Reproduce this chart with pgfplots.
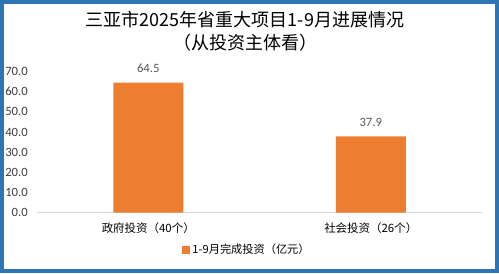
\documentclass[border=0pt]{standalone}
\usepackage{pgfplots}
\pgfplotsset{compat=1.18}
\usepackage{fontspec}
\setmainfont{Carlito}
\newfontfamily\cjk{Noto Sans CJK SC}
\definecolor{frame}{HTML}{2E75B6}
\definecolor{barc}{HTML}{ED7D31}
\definecolor{basel}{HTML}{D9D9D9}
\definecolor{tickc}{HTML}{404040}
\definecolor{labc}{HTML}{595959}
\begin{document}
\begin{tikzpicture}[x=0.75pt,y=0.75pt]
\useasboundingbox (0,0) rectangle (499,273);
\fill[white] (0,0) rectangle (499,273);
\draw[frame, line width=3pt] (2,2) rectangle (497,271);
\node[font=\cjk\fontsize{13.5pt}{16pt}\selectfont, text=black] at (245,253) {三亚市2025年省重大项目1-9月进展情况};
\node[font=\cjk\fontsize{13.5pt}{16pt}\selectfont, text=black] at (245,230) {（从投资主体看）};
\begin{axis}[
  at={(27.75pt,45.225pt)}, anchor=south west,
  scale only axis, width=333.75pt, height=105.9pt,
  xmin=-0.5, xmax=1.5, ymin=0, ymax=70,
  ybar, bar width=52.5pt,
  axis x line=bottom, axis y line=left,
  axis line style={-},
  y axis line style={draw=none},
  x axis line style={draw=basel, line width=0.75pt},
  major tick length=0pt,
  xtick={0,1},
  xticklabels={政府投资（40个）, 社会投资（26个）},
  xticklabel style={font=\cjk\fontsize{8.6pt}{10pt}\selectfont, text=black, anchor=center, inner sep=0pt, yshift=-11.25pt},
  ytick={0,10,...,70},
  yticklabel style={font=\fontsize{9.5pt}{11pt}\selectfont, text=tickc, anchor=east, inner sep=0pt, xshift=-6.75pt,
    /pgf/number format/.cd, fixed, fixed zerofill, precision=1, assume math mode=true},
  nodes near coords,
  nodes near coords style={font=\fontsize{9.5pt}{11pt}\selectfont, text=labc, anchor=center, inner sep=0pt, yshift=10.5pt,
    /pgf/number format/.cd, fixed, fixed zerofill, precision=1, assume math mode=true},
  legend style={at={(0.472,-0.264)}, anchor=center, draw=none, fill=none,
    font=\cjk\fontsize{8.4pt}{10pt}\selectfont, inner sep=0pt},
  legend image code/.code={\fill[barc] (0pt,-3pt) rectangle (6pt,3pt);},
  clip=false,
]
\addplot[fill=barc, draw=none] coordinates {(0,64.5) (1,37.9)};
\addlegendentry{1-9月完成投资（亿元）}
\end{axis}
\end{tikzpicture}
\end{document}
